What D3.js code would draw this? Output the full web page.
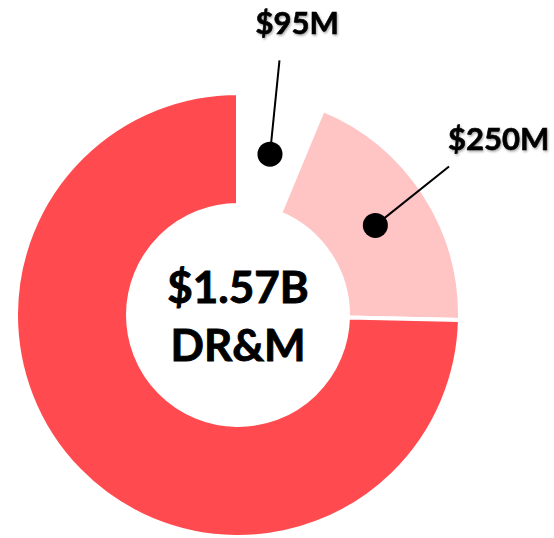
<!DOCTYPE html>
<html>
<head>
<meta charset="utf-8">
<script src="https://cdn.jsdelivr.net/npm/d3@7"></script>
<style>
  body { margin: 0; background: #fff; }
  svg { display: block; }
  text { font-family: Lato, "Open Sans", sans-serif; font-weight: 700; fill: #000; stroke: #000; stroke-width: 0.6px; }
</style>
</head>
<body>
<div id="chart"></div>
<script>
// slice data (shares, in %)
const slices = ["gap", "dfr", "rest"];
const shares = [6.25, 19.1, 74.65];
const fills = ["#ffffff", "#ffc4c4", "#ff4b4f"];
// callout labels (null = no label)
const labels = ["$95M", "$250M", null];
// centre text
const centreLines = ["$1.57B", "DR&M"];

const W = 554, H = 538;
const cx = 238, cy = 315;
const rOuter = 222, rInner = 110;

const svg = d3.select("#chart").append("svg").attr("width", W).attr("height", H);

// soft text shadow like the office chart labels
const defs = svg.append("defs");
defs.append("filter").attr("id", "shadow").attr("x", "-10%").attr("y", "-10%").attr("width", "130%").attr("height", "140%")
  .append("feDropShadow").attr("dx", 1).attr("dy", 1.5).attr("stdDeviation", 1)
  .attr("flood-color", "#000").attr("flood-opacity", 0.35);

const g = svg.append("g").attr("transform", `translate(${cx},${cy})`);

const data = slices.map((k, i) => ({ key: k, value: shares[i], fill: fills[i], label: labels[i] }));
const pie = d3.pie().sort(null).value(d => d.value);
const arcs = pie(data);

const arc = d3.arc().innerRadius(rInner).outerRadius(rOuter);

g.selectAll("path.slice").data(arcs).enter()
  .append("path").attr("class", "slice")
  .attr("d", arc)
  .attr("fill", d => d.data.fill)
  .attr("stroke", "#fff")
  .attr("stroke-width", 4);

// callouts: dot on the ring centroid, leader line out to the label
const mid = (rInner + rOuter) / 2 - 2;
const polar = (a, r) => [Math.sin(a) * r, -Math.cos(a) * r];
const labelled = arcs.filter(d => d.data.label);
const tilt = 2 * Math.PI / 180;
const textOffset = { "$95M": [-24, -26], "$250M": [-1, -17] };

labelled.forEach(d => {
  const a = (d.startAngle + d.endAngle) / 2;
  const p0 = polar(a, mid);
  const p1 = polar(a - tilt, 258);
  g.append("line")
    .attr("x1", p0[0]).attr("y1", p0[1])
    .attr("x2", p1[0]).attr("y2", p1[1])
    .attr("stroke", "#000").attr("stroke-width", 2);
  g.append("circle").attr("cx", p0[0]).attr("cy", p0[1]).attr("r", 12.5).attr("fill", "#000");
  const off = textOffset[d.data.label];
  g.append("text")
    .attr("x", p1[0] + off[0]).attr("y", p1[1] + off[1])
    .attr("font-size", 31)
    .attr("filter", "url(#shadow)")
    .text(d.data.label);
});

// centre text
g.selectAll("text.centre").data(centreLines).enter()
  .append("text").attr("class", "centre")
  .attr("text-anchor", "middle")
  .attr("x", 0)
  .attr("y", (d, i) => -12 + i * 58)
  .attr("font-size", 44)
  .style("stroke-width", "0.9px")
  .text(d => d);
</script>
</body>
</html>
